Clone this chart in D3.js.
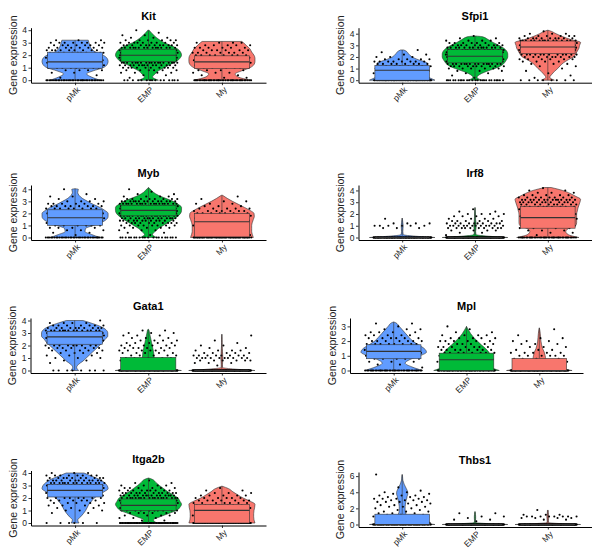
<!DOCTYPE html>
<html>
<head>
<meta charset="utf-8">
<script src="https://cdn.jsdelivr.net/npm/d3@7"></script>
<style>
  body { margin: 0; background: #fff; }
  text { font-family: "Liberation Sans", Arial, sans-serif; }
</style>
</head>
<body>
<div id="chart"></div>
<script>
// ---- data ----
let genes = ["Kit", "Sfpi1", "Myb", "Irf8", "Gata1", "Mpl", "Itga2b", "Thbs1"];
let groups = ["pMk", "EMP", "My"];
let groupColors = ["#619CFF", "#00BA38", "#F8766D"];

// top of the y data range and tick labels per gene
let yMax = [4.0, 4.3, 4.15, 4.25, 4.0, 3.4, 4.0, 6.2];
let yTicks = [[0,1,2,3,4], [0,1,2,3,4], [0,1,2,3,4], [0,1,2,3,4], [0,1,2,3,4], [0,1,2,3], [0,1,2,3,4], [0,2,4,6]];

// [min, q1, median, q3, max] per group
let boxStats = [
  [[0,0.96,1.47,2.24,3.2], [0,1.5,2.0,2.48,4.0], [0,0.93,1.47,1.95,3.1]],
  [[0,0,0.86,1.26,2.6], [0,1.49,2.06,2.63,3.8], [0,2.29,2.86,3.37,4.3]],
  [[0,1.01,1.64,2.3,4.05], [0,1.8,2.25,2.68,4.15], [0,0.05,1.31,2.0,3.5]],
  [[0,0,0,0,1.65], [0,0,0,0,2.55], [0,0.79,1.69,2.62,4.25]],
  [[0,2.1,2.69,3.12,4.0], [0,0,0,1.05,3.3], [0,0,0,0,2.9]],
  [[0,0.8,1.3,1.75,3.3], [0,0,0.73,1.18,3.0], [0,0,0,0.82,2.9]],
  [[0,2.08,2.61,3.07,4.0], [0,0.99,1.41,1.92,3.6], [0,0,1.01,1.47,2.95]],
  [[0,0,0,1.28,6.2], [0,0,0,0,1.6], [0,0,0,0,1.8]]
];

// relative violin width every 0.25 from 0, last value at the group max
let violinWidths = [
  [[0.75,0.5,0.35,0.55,0.85,0.97,1.0,0.97,0.85,0.62,0.5,0.45,0.42,0.4],
   [0.3,0.12,0.2,0.3,0.48,0.65,0.85,0.95,1.0,0.97,0.88,0.7,0.48,0.32,0.2,0.1,0.02],
   [0.85,0.5,0.4,0.6,0.85,0.97,1.0,1.0,0.97,0.9,0.85,0.75,0.65,0.6]],
  [[1.0,0.8,0.6,0.6,0.7,0.78,0.75,0.5,0.3,0.2,0.12,0.05],
   [0.2,0.06,0.15,0.35,0.6,0.8,0.9,0.96,1.0,1.0,0.97,0.88,0.73,0.55,0.4,0.2,0.02],
   [0.2,0.06,0.12,0.2,0.3,0.38,0.48,0.62,0.78,0.85,0.9,0.95,0.97,1.0,0.7,0.45,0.25,0.06,0.0]],
  [[0.75,0.5,0.3,0.32,0.55,0.8,0.95,1.0,1.0,0.9,0.75,0.55,0.38,0.22,0.12,0.08,0.1,0.0],
   [0.25,0.12,0.2,0.3,0.45,0.6,0.75,0.88,0.97,1.0,1.0,0.9,0.75,0.52,0.3,0.15,0.06,0.0],
   [0.95,0.92,0.9,0.9,0.9,0.92,0.95,0.98,0.97,0.85,0.68,0.5,0.32,0.16,0.02]],
  [[1.0,0.03,0.02,0.025,0.03,0.02,0.01,0.0],
   [1.0,0.03,0.02,0.03,0.035,0.03,0.02,0.015,0.015,0.01,0.005,0.0],
   [0.95,0.62,0.55,0.62,0.85,0.88,0.88,0.88,0.88,0.9,0.92,0.95,0.98,1.0,0.85,0.68,0.45,0.1]],
  [[0.12,0.06,0.12,0.25,0.35,0.45,0.55,0.65,0.75,0.85,0.92,1.0,1.0,0.95,0.8,0.55,0.25],
   [1.0,0.3,0.2,0.18,0.18,0.17,0.16,0.14,0.12,0.1,0.08,0.06,0.04,0.02,0.0],
   [1.0,0.02,0.02,0.025,0.03,0.025,0.02,0.015,0.01,0.01,0.008,0.005,0.0]],
  [[0.88,0.55,0.35,0.5,0.8,1.0,0.93,0.75,0.58,0.47,0.37,0.27,0.17,0.06,0.0],
   [1.0,0.7,0.6,0.65,0.72,0.68,0.58,0.45,0.33,0.22,0.13,0.06,0.0],
   [1.0,0.35,0.25,0.2,0.18,0.15,0.1,0.07,0.05,0.04,0.03,0.015,0.0]],
  [[0.12,0.08,0.17,0.25,0.32,0.37,0.42,0.5,0.58,0.72,0.88,1.0,0.97,0.88,0.73,0.5,0.27],
   [0.25,0.15,0.35,0.6,0.85,0.95,1.0,0.95,0.89,0.75,0.59,0.46,0.33,0.22,0.11,0.0],
   [1.0,0.97,0.96,0.96,0.97,0.99,1.0,0.85,0.64,0.48,0.33,0.2,0.0]],
  [[1.0,0.5,0.3,0.2,0.15,0.12,0.1,0.09,0.09,0.09,0.1,0.11,0.12,0.14,0.15,0.17,0.17,0.15,0.12,0.09,0.06,0.04,0.02,0.015,0.01,0.0],
   [1.0,0.02,0.015,0.02,0.02,0.015,0.01,0.0],
   [1.0,0.02,0.02,0.025,0.03,0.02,0.015,0.01,0.0]]
];

// number of cells at each expression level, levels 0, 0.2, 0.4, ...
let pointCounts = [
  [[35,1,1,2,4,8,10,12,12,12,12,10,9,8,7,8,3],
   [15,1,2,4,6,10,14,18,22,25,25,22,20,15,12,9,6,3,2,1,1],
   [40,2,2,3,4,6,8,9,9,9,8,7,6,6,5,4]],
  [[60,5,5,6,6,7,7,8,8,5,3,2,1,1],
   [25,1,1,2,3,6,10,15,20,22,22,22,20,18,14,10,7,4,2,1],
   [8,1,1,1,1,1,2,3,4,6,9,12,16,20,22,22,20,15,10,6,3,1]],
  [[35,1,2,3,4,6,7,8,9,10,10,9,8,8,6,4,2,2,1,0,1],
   [20,1,2,3,5,8,10,12,15,18,22,24,24,22,18,14,8,4,2,1,1],
   [50,3,3,3,3,4,5,5,6,7,7,7,5,3,3,2,1,1]],
  [[120,0,0,0,3,6,4,0,1],
   [150,1,2,4,10,12,10,6,4,4,4,2,1],
   [40,1,2,3,4,5,6,6,7,7,8,8,8,9,10,12,14,8,5,3,2,1]],
  [[8,0,0,1,2,3,3,4,5,7,9,12,14,16,18,18,14,10,7,4,1],
   [100,3,3,3,4,5,5,5,6,6,6,5,4,3,3,3,2],
   [150,0,1,3,6,10,8,5,4,2,2,1,1,0,1]],
  [[40,1,2,3,5,7,8,9,9,8,7,6,5,4,3,1,2],
   [70,4,5,6,6,7,8,8,7,6,6,5,4,2,1,1],
   [100,3,3,3,4,6,5,3,3,3,3,2,1,0,1]],
  [[6,0,0,0,2,3,3,4,5,6,8,10,12,14,16,16,14,12,10,8,3],
   [60,2,3,4,6,10,14,18,20,20,18,15,12,9,6,4,2,1],
   [60,4,4,4,5,6,7,7,7,7,6,5,3,2,1]],
  [[80,3,3,3,3,3,3,3,3,2,2,3,3,2,4,4,4,3,3,2,2,1,0,1,0,0,0,0,0,0,0,1],
   [150,0,1,2,1,2,0,2,0],
   [150,0,0,2,4,8,3,0,0,1]]
];

// ---- layout ----
let panelX = [[31,266],[358.5,591.5],[31,266],[358.5,591.5],[30.5,266],[350,583],[31,266],[358.5,591.5]];
let panelBottom = [82.7, 82.7, 240, 240, 373, 373, 525.5, 527];
let panelHeight = 55;
let lineColor = "#333333";

let svg = d3.select("#chart")
      .append("svg")
      .attr("width", 592)
      .attr("height", 552);

genes.forEach(function(gene, gi) {
  let x0 = panelX[gi][0], x1 = panelX[gi][1];
  let yb = panelBottom[gi], yt = yb - panelHeight;
  let top = yMax[gi];

  let y = d3.scaleLinear().domain([-0.05 * top, 1.05 * top]).range([yb, yt]);
  let x = d3.scalePoint().domain(groups).range([x0, x1]).padding(0.6);
  let step = x.step();

  let g = svg.append("g").attr("class", "panel");

  // violins
  groups.forEach(function(grp, k) {
    let mx = boxStats[gi][k][4];
    let prof = [];
    violinWidths[gi][k].forEach(function(w, i) {
      let v = Math.min(i * 0.25, mx);
      if (prof.length && prof[prof.length - 1].v >= v) return;
      prof.push({v: v, w: w});
    });
    let area = d3.area()
        .curve(d3.curveMonotoneY)
        .y(function(d) { return y(d.v); })
        .x0(function(d) { return x(grp) - d.w * 0.45 * step; })
        .x1(function(d) { return x(grp) + d.w * 0.45 * step; });
    g.append("path")
        .attr("d", area(prof))
        .attr("fill", groupColors[k])
        .attr("stroke", lineColor)
        .attr("stroke-width", 0.6);
  });

  // jittered cells
  groups.forEach(function(grp, k) {
    let pts = [];
    pointCounts[gi][k].forEach(function(n, b) {
      for (let j = 0; j < n; j++) pts.push(+(b * 0.2).toFixed(1));
    });
    g.selectAll(null)
        .data(pts)
        .enter().append("circle")
        .attr("cx", function(d, i) {
            let u = ((i + 1) * 0.6180339887 + k * 0.29 + gi * 0.13) % 1;
            return x(grp) + (u - 0.5) * 0.8 * step;
        })
        .attr("cy", function(d) { return y(d); })
        .attr("r", 1.05)
        .attr("fill", "#000");
  });

  // boxplots
  groups.forEach(function(grp, k) {
    let s = boxStats[gi][k], cx = x(grp), hw = 0.375 * step;
    g.append("line")
        .attr("x1", cx).attr("x2", cx)
        .attr("y1", y(s[0])).attr("y2", y(s[1]))
        .attr("stroke", lineColor).attr("stroke-width", 0.6);
    g.append("line")
        .attr("x1", cx).attr("x2", cx)
        .attr("y1", y(s[3])).attr("y2", y(s[4]))
        .attr("stroke", lineColor).attr("stroke-width", 0.6);
    g.append("rect")
        .attr("x", cx - hw)
        .attr("y", y(s[3]))
        .attr("width", 2 * hw)
        .attr("height", y(s[1]) - y(s[3]))
        .attr("fill", groupColors[k])
        .attr("stroke", lineColor)
        .attr("stroke-width", 0.6);
    g.append("line")
        .attr("x1", cx - hw).attr("x2", cx + hw)
        .attr("y1", y(s[2])).attr("y2", y(s[2]))
        .attr("stroke", lineColor).attr("stroke-width", 1.1);
  });

  // axes
  let ya = g.append("g")
      .attr("transform", "translate(" + x0 + ",0)")
      .call(d3.axisLeft(y).tickValues(yTicks[gi]).tickFormat(d3.format("d"))
            .tickSize(2.5).tickPadding(1.5).tickSizeOuter(0));
  ya.selectAll("text").attr("font-size", 8.5).attr("fill", "#222");

  let xa = g.append("g")
      .attr("transform", "translate(0," + yb + ")")
      .call(d3.axisBottom(x).tickSize(2.5).tickSizeOuter(0));
  xa.selectAll("text")
      .attr("font-size", 8.5)
      .attr("fill", "#222")
      .attr("x", 0).attr("y", 0)
      .attr("dy", "0.6em")
      .attr("text-anchor", "end")
      .attr("transform", "translate(1.5,4) rotate(-45)");

  g.selectAll(".domain, .tick line").attr("stroke", "#000").attr("stroke-width", 1);
  g.selectAll(".tick line").attr("stroke-width", 0.8);

  // titles
  g.append("text")
      .attr("x", (x0 + x1) / 2)
      .attr("y", yt - 8)
      .attr("text-anchor", "middle")
      .attr("font-size", 11)
      .attr("font-weight", "bold")
      .text(gene);

  g.append("text")
      .attr("transform", "translate(" + (x0 - 14.5) + "," + (yb + yt) / 2 + ") rotate(-90)")
      .attr("text-anchor", "middle")
      .attr("font-size", 10.5)
      .attr("fill", "#222")
      .text("Gene expression");
});
</script>
</body>
</html>
